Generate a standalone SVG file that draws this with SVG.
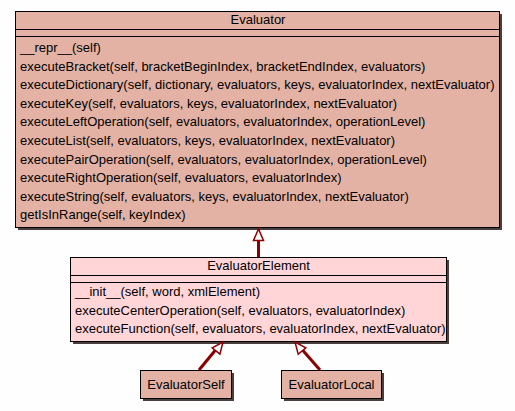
<svg xmlns="http://www.w3.org/2000/svg" width="515" height="411" viewBox="0 0 515 411">
<defs>
<style>
text{font-family:"Liberation Sans",Arial,sans-serif;font-size:13px;fill:#000}
.c{text-anchor:middle}
.box{stroke:#000;stroke-width:1}
.sh{fill:#4a3f3c}
.a{fill:#e3b2a5}
.b{fill:#ffd5d8}
.ln{stroke:#000;stroke-width:1}
.edge{stroke:#8b0000;stroke-width:3;fill:none}
.head{fill:#fff;stroke:#8b0000;stroke-width:1.5}
</style>
</defs>
<rect width="515" height="411" fill="#fefefe"/>
<g id="Evaluator">
<rect class="sh" x="18" y="14" width="484" height="216"/>
<rect class="box a" x="15.5" y="11.5" width="484" height="216"/>
<line class="ln" x1="15.5" y1="29.5" x2="499.5" y2="29.5"/>
<line class="ln" x1="15.5" y1="36.5" x2="499.5" y2="36.5"/>
<text class="c" x="258" y="24">Evaluator</text>
<text x="20" y="52">__repr__(self)</text>
<text x="20" y="70.6">executeBracket(self, bracketBeginIndex, bracketEndIndex, evaluators)</text>
<text x="20" y="89.2">executeDictionary(self, dictionary, evaluators, keys, evaluatorIndex, nextEvaluator)</text>
<text x="20" y="107.8">executeKey(self, evaluators, keys, evaluatorIndex, nextEvaluator)</text>
<text x="20" y="126.4">executeLeftOperation(self, evaluators, evaluatorIndex, operationLevel)</text>
<text x="20" y="145">executeList(self, evaluators, keys, evaluatorIndex, nextEvaluator)</text>
<text x="20" y="163.6">executePairOperation(self, evaluators, evaluatorIndex, operationLevel)</text>
<text x="20" y="182.2">executeRightOperation(self, evaluators, evaluatorIndex)</text>
<text x="20" y="200.8">executeString(self, evaluators, keys, evaluatorIndex, nextEvaluator)</text>
<text x="20" y="219.4">getIsInRange(self, keyIndex)</text>
</g>
<g id="EvaluatorElement">
<rect class="sh" x="73" y="260" width="376" height="84"/>
<rect class="box b" x="70.5" y="257.5" width="376" height="84"/>
<line class="ln" x1="70.5" y1="275.5" x2="446.5" y2="275.5"/>
<line class="ln" x1="70.5" y1="282.5" x2="446.5" y2="282.5"/>
<text class="c" x="258.5" y="270">EvaluatorElement</text>
<text x="75" y="296">__init__(self, word, xmlElement)</text>
<text x="75" y="314.5">executeCenterOperation(self, evaluators, evaluatorIndex)</text>
<text x="75" y="333">executeFunction(self, evaluators, evaluatorIndex, nextEvaluator)</text>
</g>
<g id="EvaluatorSelf">
<rect class="sh" x="143" y="373" width="91" height="28"/>
<rect class="box a" x="140.5" y="370.5" width="91" height="28"/>
<text class="c" x="186" y="389">EvaluatorSelf</text>
</g>
<g id="EvaluatorLocal">
<rect class="sh" x="284" y="373" width="100" height="28"/>
<rect class="box a" x="281.5" y="370.5" width="100" height="28"/>
<text class="c" x="331.5" y="389">EvaluatorLocal</text>
</g>
<g id="connectors">
<line class="edge" x1="258.5" y1="257" x2="258.5" y2="240"/>
<polygon class="head" points="258.5,229 253.5,240.5 263.5,240.5"/>
<line class="edge" x1="199" y1="370" x2="215.5" y2="350"/>
<polygon class="head" points="223,342 219.9,354.2 212.2,347.8"/>
<line class="edge" x1="320" y1="370" x2="302.5" y2="350"/>
<polygon class="head" points="295,342 305.8,347.8 298.2,354.2"/>
</g>
</svg>
